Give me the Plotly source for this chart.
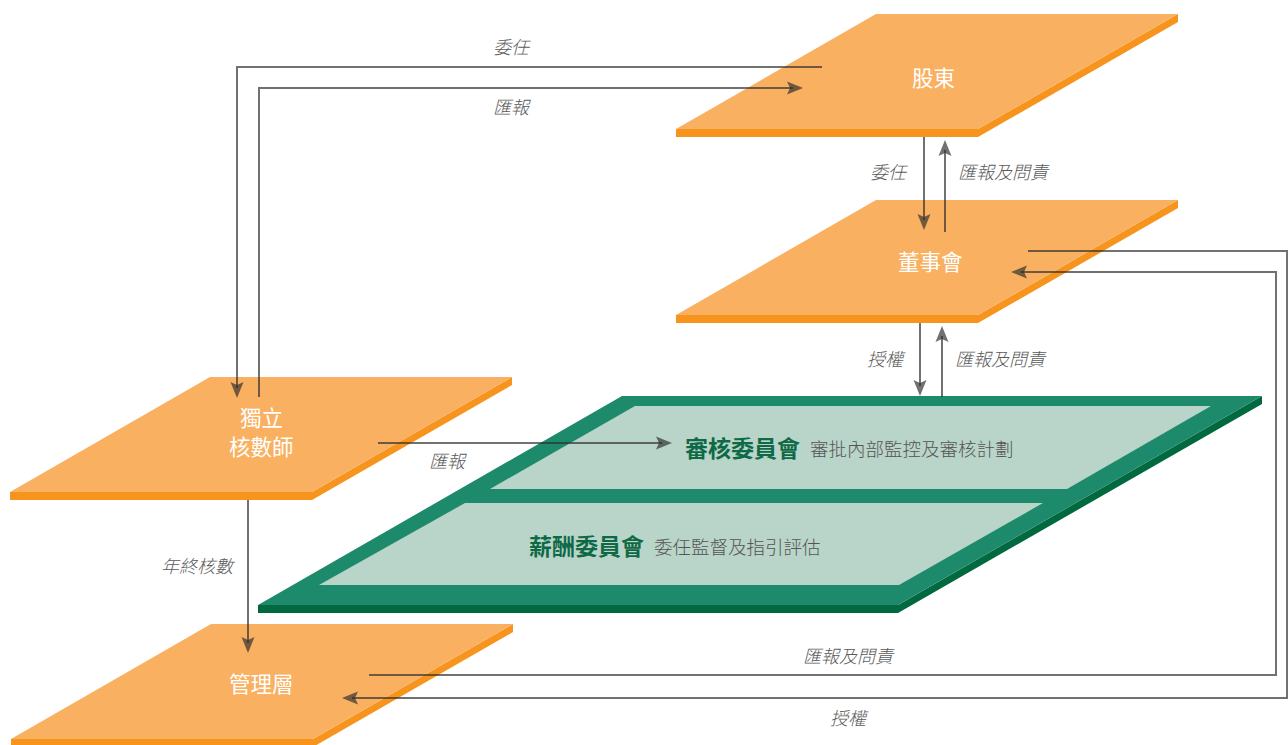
import plotly.graph_objects as go

# ---------------- data (diagram content) ----------------
node_names = [["股東"], ["董事會"], ["獨立", "核數師"], ["管理層"]]
node_top_left = [(876, 14), (876, 200), (210, 377), (211, 624)]
node_label_pos = [(933, 76), (930, 260), (261, 431), (261, 682)]

committee_titles = ["審核委員會", "薪酬委員會"]
committee_subtitles = ["審批內部監控及審核計劃", "委任監督及指引評估"]
committee_text_split = [(802, 447), (646, 545)]

flow_labels = ["委任", "匯報", "委任", "匯報及問責", "授權", "匯報及問責",
               "匯報", "年終核數", "匯報及問責", "授權"]
flow_label_pos = [(512, 46), (512, 106), (889, 171), (1004, 171), (886, 358),
                  (1001, 358), (448, 460), (198, 565), (849, 655), (849, 717)]

# connectors: polyline points, arrow direction at last point
flows = [
    ([(822, 67), (237, 67), (237, 398)], "down"),
    ([(259, 397), (259, 88), (803, 88)], "right"),
    ([(924, 137), (924, 230)], "down"),
    ([(945, 232), (945, 140)], "up"),
    ([(920, 323), (920, 396)], "down"),
    ([(942, 397), (942, 326)], "up"),
    ([(378, 443), (672, 443)], "right"),
    ([(248, 500), (248, 653)], "down"),
    ([(369, 675), (1276, 675), (1276, 272), (1011, 272)], "left"),
    ([(1028, 251), (1287, 251), (1287, 698), (342, 698)], "left"),
]

# ---------------- styles ----------------
W, H, SLANT, THICK = 302, 115, 200, 8
ORANGE_TOP = "#F9B060"
ORANGE_SIDE = "#F7941D"
GREEN_OUTER = "#1E8A6C"
GREEN_SIDE = "#00693F"
GREEN_INNER = "#B9D4C8"
LINE_COL = "rgba(45,45,45,0.68)"
LABEL_COL = "#5a5a5a"
FONT = "Noto Sans CJK TC, Noto Sans CJK SC, sans-serif"
LINE_GAP = 29


def poly(pts, closed=True):
    s = "M " + " L ".join(f"{a},{b}" for a, b in pts)
    return s + (" Z" if closed else "")


def plane_top(x_tl, y_t, w, h, slant):
    return poly([(x_tl, y_t), (x_tl + w, y_t), (x_tl + w - slant, y_t + h), (x_tl - slant, y_t + h)])


def plane_edge(x_tl, y_t, w, h, slant, t):
    # visible thickness: front strip + right side
    bl = (x_tl - slant, y_t + h)
    br = (x_tl + w - slant, y_t + h)
    tr = (x_tl + w, y_t)
    return poly([bl, br, tr, (tr[0], tr[1] + t), (br[0], br[1] + t), (bl[0], bl[1] + t)])


shapes = []
# orange planes
for (x, y) in node_top_left:
    shapes.append(dict(type="path", path=plane_edge(x, y, W, H, SLANT, THICK),
                       fillcolor=ORANGE_SIDE, line=dict(width=0), layer="below"))
    shapes.append(dict(type="path", path=plane_top(x, y, W, H, SLANT),
                       fillcolor=ORANGE_TOP, line=dict(width=0), layer="below"))

# green committee plane
gx, gy, gw, gh, gs = 622, 396, 640, 209, 364
shapes.append(dict(type="path", path=plane_edge(gx, gy, gw, gh, gs, 8),
                   fillcolor=GREEN_SIDE, line=dict(width=0), layer="below"))
shapes.append(dict(type="path", path=plane_top(gx, gy, gw, gh, gs),
                   fillcolor=GREEN_OUTER, line=dict(width=0), layer="below"))
shapes.append(dict(type="path", path=poly([(635, 406), (1211, 406), (1067, 489), (490, 489)]),
                   fillcolor=GREEN_INNER, line=dict(width=0), layer="below"))
shapes.append(dict(type="path", path=poly([(465, 503), (1043, 503), (899, 585), (319, 585)]),
                   fillcolor=GREEN_INNER, line=dict(width=0), layer="below"))


def arrowhead(tx, ty, d, L=16, hw=6.5, notch=3):
    if d == "down":
        pts = [(tx, ty), (tx - hw, ty - L), (tx, ty - L + notch), (tx + hw, ty - L)]
    elif d == "up":
        pts = [(tx, ty), (tx - hw, ty + L), (tx, ty + L - notch), (tx + hw, ty + L)]
    elif d == "right":
        pts = [(tx, ty), (tx - L, ty - hw), (tx - L + notch, ty), (tx - L, ty + hw)]
    else:
        pts = [(tx, ty), (tx + L, ty - hw), (tx + L - notch, ty), (tx + L, ty + hw)]
    return poly(pts)


def shorten(pts, d, n=10):
    pts = list(pts)
    x, y = pts[-1]
    off = {"down": (0, -n), "up": (0, n), "right": (-n, 0), "left": (n, 0)}[d]
    pts[-1] = (x + off[0], y + off[1])
    return pts


for pts, d in flows:
    shapes.append(dict(type="path", path=poly(shorten(pts, d), closed=False),
                       line=dict(color=LINE_COL, width=2), layer="above"))
    tx, ty = pts[-1]
    shapes.append(dict(type="path", path=arrowhead(tx, ty, d),
                       fillcolor=LINE_COL, line=dict(width=0), layer="above"))

annotations = []
for lines, (x, y) in zip(node_names, node_label_pos):
    n = len(lines)
    for i, line in enumerate(lines):
        yy = y + (i - (n - 1) / 2) * LINE_GAP
        annotations.append(dict(x=x, y=yy, text=line, showarrow=False,
                                font=dict(family=FONT, size=21.5, color="white", weight=400),
                                xanchor="center", yanchor="middle"))

for t, s, (x, y) in zip(committee_titles, committee_subtitles, committee_text_split):
    annotations.append(dict(x=x, y=y, text=f"<b>{t}</b>", showarrow=False,
                            font=dict(family=FONT, size=23, color="#0E6A46"),
                            xanchor="right", yanchor="middle"))
    annotations.append(dict(x=x + 6, y=y + 1, text=s, showarrow=False,
                            font=dict(family=FONT, size=18.5, color="#555555", weight=300),
                            xanchor="left", yanchor="middle"))

for t, (x, y) in zip(flow_labels, flow_label_pos):
    annotations.append(dict(x=x, y=y, text=f"<i>{t}</i>", showarrow=False,
                            font=dict(family=FONT, size=18, color=LABEL_COL, weight=300),
                            xanchor="center", yanchor="middle"))

fig = go.Figure()
fig.add_trace(go.Scatter(x=[0, 1288], y=[0, 745], mode="markers",
                         marker=dict(opacity=0), hoverinfo="skip", showlegend=False))
fig.update_layout(
    width=1288, height=745,
    margin=dict(l=0, r=0, t=0, b=0),
    paper_bgcolor="white", plot_bgcolor="white",
    xaxis=dict(range=[0, 1288], visible=False, fixedrange=True),
    yaxis=dict(range=[745, 0], visible=False, fixedrange=True),
    shapes=shapes, annotations=annotations, showlegend=False,
)
fig.write_html("out.html", config={"displayModeBar": False},
               post_script="document.body.style.margin='0';document.body.style.overflow='hidden';")
